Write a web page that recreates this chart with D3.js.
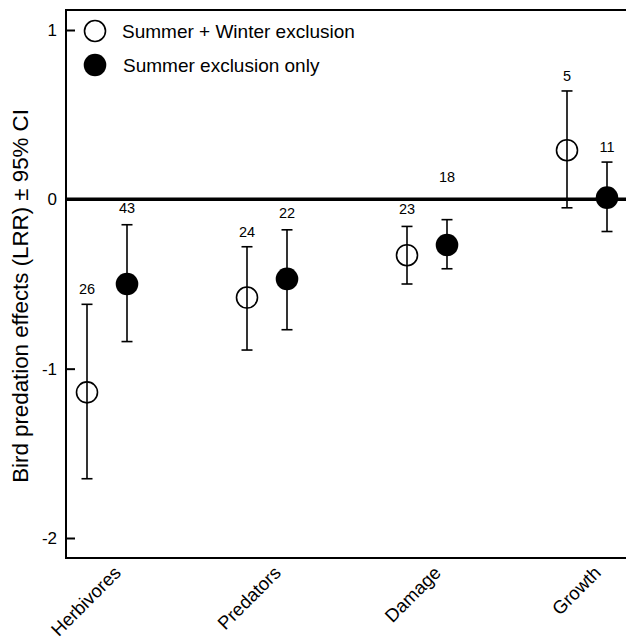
<!DOCTYPE html>
<html>
<head>
<meta charset="utf-8">
<script src="https://cdn.jsdelivr.net/npm/d3@7"></script>
<style>
  body { margin: 0; background: #fff; }
  svg { display: block; font-family: Arial, "Liberation Sans", sans-serif; }
</style>
</head>
<body>
<svg width="626" height="642"></svg>
<script>
// categories + the two exclusion treatments
const categories = ['Herbivores', 'Predators', 'Damage', 'Growth'];
const seriesNames = ['Summer + Winter exclusion', 'Summer exclusion only'];

// summer + winter (open circles)
const bothMean = [-1.14, -0.58, -0.33, 0.29];
const bothLow = [-1.65, -0.89, -0.50, -0.05];
const bothHigh = [-0.62, -0.28, -0.16, 0.64];
const bothN = [26, 24, 23, 5];
const bothNAt = [-0.53, -0.19, -0.06, 0.73]; // where the n label sits (LRR units)

// summer only (filled circles)
const summerMean = [-0.50, -0.47, -0.27, 0.01];
const summerLow = [-0.84, -0.77, -0.41, -0.19];
const summerHigh = [-0.15, -0.18, -0.12, 0.22];
const summerN = [43, 22, 18, 11];
const summerNAt = [-0.05, -0.08, 0.13, 0.31];

const yTicks = [1, 0, -1, -2];

const axisX = 66, plotTop = 10, plotBottom = 558, plotRight = 640;

const yScale = d3.scaleLinear().domain([1, -2]).range([30, 538]);
const xScale = d3.scalePoint().domain(categories).range([107, 587]);
const offset = d3.scalePoint().domain(seriesNames).range([-20, 20]);

const svg = d3.select('svg');

// build rows from the arrays
const rows = [];
categories.forEach((c, i) => {
    rows.push({cat: c, series: seriesNames[0], mean: bothMean[i], lo: bothLow[i], hi: bothHigh[i], n: bothN[i], nAt: bothNAt[i], filled: false});
    rows.push({cat: c, series: seriesNames[1], mean: summerMean[i], lo: summerLow[i], hi: summerHigh[i], n: summerN[i], nAt: summerNAt[i], filled: true});
});

// frame: top line, left axis, bottom axis
svg.append('line').attr('x1', axisX).attr('x2', plotRight).attr('y1', plotTop).attr('y2', plotTop)
    .attr('stroke', '#000').attr('stroke-width', 2);
svg.append('line').attr('x1', axisX).attr('x2', axisX).attr('y1', plotTop - 1).attr('y2', plotBottom + 1)
    .attr('stroke', '#000').attr('stroke-width', 2);
svg.append('line').attr('x1', axisX - 1).attr('x2', plotRight).attr('y1', plotBottom).attr('y2', plotBottom)
    .attr('stroke', '#000').attr('stroke-width', 2);

// zero line
svg.append('line').attr('x1', axisX).attr('x2', plotRight)
    .attr('y1', yScale(0)).attr('y2', yScale(0))
    .attr('stroke', '#000').attr('stroke-width', 3.5);

// y axis, ticks pointing inward, plain hyphen for minus
const yAxis = svg.append('g')
    .attr('transform', `translate(${axisX},0)`)
    .call(d3.axisLeft(yScale).tickValues(yTicks).tickSizeInner(-9).tickSizeOuter(0).tickPadding(9).tickFormat(d => String(d)));
yAxis.select('.domain').remove();
yAxis.selectAll('line').attr('stroke-width', 2);
yAxis.selectAll('text').attr('font-size', 17).attr('font-family', 'Arial, "Liberation Sans", sans-serif').attr('fill', '#000');

// y title
svg.append('text')
    .attr('transform', `translate(28,296) rotate(-90)`)
    .attr('text-anchor', 'middle')
    .attr('font-size', 22.3)
    .text('Bird predation effects (LRR) \u00b1 95% CI');

// category labels
svg.selectAll('.cat')
    .data(categories)
    .enter()
    .append('text')
    .classed('cat', true)
    .attr('transform', d => `translate(${xScale(d) + 15},${plotBottom + 16}) rotate(-45)`)
    .attr('text-anchor', 'end')
    .attr('font-size', 18.5)
    .text(d => d);

// error bars
const bars = svg.selectAll('.err')
    .data(rows)
    .enter()
    .append('g')
    .classed('err', true)
    .attr('transform', d => `translate(${xScale(d.cat) + offset(d.series)},0)`);

bars.append('line')
    .attr('y1', d => yScale(d.lo)).attr('y2', d => yScale(d.hi))
    .attr('stroke', '#000').attr('stroke-width', 1.6);
bars.append('line')
    .attr('x1', -5.5).attr('x2', 5.5)
    .attr('y1', d => yScale(d.lo)).attr('y2', d => yScale(d.lo))
    .attr('stroke', '#000').attr('stroke-width', 1.6);
bars.append('line')
    .attr('x1', -5.5).attr('x2', 5.5)
    .attr('y1', d => yScale(d.hi)).attr('y2', d => yScale(d.hi))
    .attr('stroke', '#000').attr('stroke-width', 1.6);
bars.append('circle')
    .attr('cy', d => yScale(d.mean))
    .attr('r', d => d.filled ? 11.3 : 10.5)
    .attr('fill', d => d.filled ? '#000' : 'none')
    .attr('stroke', '#000')
    .attr('stroke-width', d => d.filled ? 0 : 1.6);
bars.append('text')
    .attr('y', d => yScale(d.nAt) + 5)
    .attr('text-anchor', 'middle')
    .attr('font-size', 14.5)
    .text(d => d.n);

// legend
const legend = svg.selectAll('.leg')
    .data(seriesNames)
    .enter()
    .append('g')
    .classed('leg', true)
    .attr('transform', (d, i) => `translate(95,${31 + i * 34})`);
legend.append('circle')
    .attr('r', (d, i) => i ? 11.3 : 10.5)
    .attr('fill', (d, i) => i ? '#000' : 'none')
    .attr('stroke', '#000')
    .attr('stroke-width', (d, i) => i ? 0 : 1.6);
legend.append('text')
    .attr('x', (d, i) => i ? 28 : 27)
    .attr('y', 7)
    .attr('font-size', 19)
    .text(d => d);
</script>
</body>
</html>
